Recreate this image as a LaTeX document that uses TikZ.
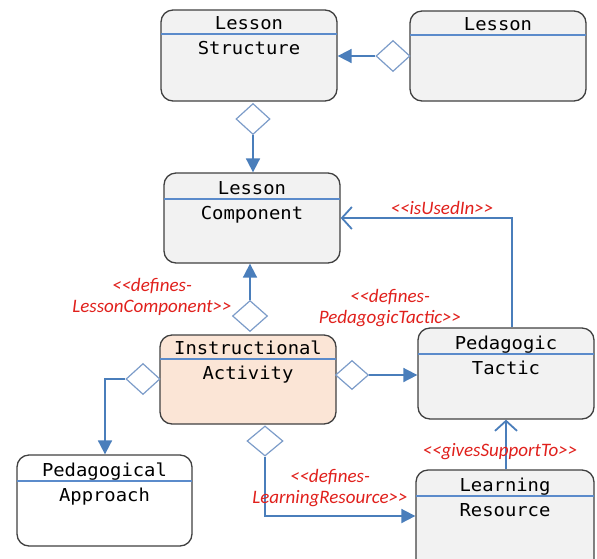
\documentclass[tikz,border=0pt]{standalone}
\usepackage{fontspec}
\usetikzlibrary{shapes.geometric,arrows.meta,calc}
\newfontfamily\boxfont[FakeStretch=1.06]{DejaVu Sans Mono}
\newfontfamily\labfont{Carlito}
\definecolor{boxedge}{HTML}{404040}
\definecolor{boxgray}{HTML}{F2F2F2}
\definecolor{boxpeach}{HTML}{FBE5D6}
\definecolor{sepblue}{HTML}{5B8BCB}
\definecolor{connblue}{HTML}{4A7EBB}
\definecolor{diablue}{HTML}{7C9CC9}
\definecolor{labred}{HTML}{E0201C}
\tikzset{
  classbox/.style={draw=boxedge, line width=1.3pt, rounded corners=12pt, fill=boxgray, inner sep=0pt},
  sepline/.style={draw=sepblue, line width=1.1pt},
  boxtext/.style={anchor=base, inner sep=0pt, text=black, font=\boxfont\fontsize{17.8}{20}\selectfont},
  agg/.style={diamond, draw=diablue, line width=1.2pt, fill=white, inner sep=0pt, minimum width=34pt, minimum height=31pt},
  conn/.style={draw=connblue, line width=1.8pt},
  solidtip/.style={-{Triangle[length=14pt,width=14pt]}},
  opentip/.style={-{Straight Barb[length=10pt,width=22pt,line width=1.8pt]}},
  stereo/.style={text=labred, align=center, inner sep=0pt, font=\labfont\itshape\fontsize{19}{21}\selectfont},
}
% class box: #1 name, #2 left, #3 top, #4 right, #5 bottom, #6 separator y, #7 fill, #8 title, #9 body
\newcommand\classnode[9]{%
  \node[classbox, fill=#7, minimum width=#4-#2, minimum height=#5-#3] (#1) at ({(#2+#4)/2},{(#3+#5)/2}) {};
  \draw[sepline] (#2,#6) -- (#4,#6);
  \node[boxtext] (#1-title) at ({(#2+#4)/2},#6-5) {#8};
  \node[boxtext] (#1-body) at ({(#2+#4)/2},#6+20) {#9};
}
\begin{document}
\begin{tikzpicture}[x=1pt,y=-1pt]
\useasboundingbox (0,0) rectangle (597,558);
\clip (0,0) rectangle (597,558);

% classes
\classnode{ls}{161}{10}{337}{101}{34}{boxgray}{Lesson}{Structure}
\classnode{les}{410}{11}{586}{101}{35}{boxgray}{Lesson}{}
\classnode{lc}{164}{173}{340}{263}{199}{boxgray}{Lesson}{Component}
\classnode{ia}{160}{335}{336}{424}{359}{boxpeach}{Instructional}{Activity}
\classnode{pt}{418}{328}{594}{419}{354}{boxgray}{Pedagogic}{Tactic}
\classnode{pa}{17}{455}{192}{546}{481}{white}{Pedagogical}{Approach}
\classnode{lr}{416}{470}{594}{580}{496}{boxgray}{Learning}{Resource}

% bend points
\coordinate (bendpa) at (105,379);
\coordinate (bendlr) at (265,516);
\coordinate (bendpt) at (512,218);
\coordinate (supx) at (506,0);

% aggregation diamonds
\coordinate (d1) at (393,56);
\coordinate (d2) at (253,119);
\coordinate (d3) at (250,316);
\coordinate (d4) at (352,375);
\coordinate (d5) at (143,379);
\coordinate (d6) at (265,441);
\node[agg] (a1) at (d1) {};
\node[agg] (a2) at (d2) {};
\node[agg, minimum width=35pt] (a3) at (d3) {};
\node[agg, minimum width=33pt, minimum height=29pt] (a4) at (d4) {};
\node[agg] (a5) at (d5) {};
\node[agg, minimum width=36pt, minimum height=30pt] (a6) at (d6) {};

% aggregation links
\draw[conn, solidtip] (a1.west) -- (a1.west -| ls.east);
\draw[conn, solidtip] (a2.south) -- (a2.south |- lc.north);
\draw[conn, solidtip] (a3.north) -- (a3.north |- lc.south);
\draw[conn, solidtip] (a4.east) -- (a4.east -| pt.west);
\draw[conn, solidtip] (a5.west) -- (bendpa) -- (bendpa |- pa.north);
\draw[conn, solidtip] (a6.south) -- (bendlr) -- (bendlr -| lr.west);

% dependency links
\draw[conn, opentip] (bendpt |- pt.north) -- (bendpt) -- (bendpt -| lc.east);
\draw[conn, opentip] (supx |- lr.north) -- (supx |- pt.south);

% stereotypes
\node[stereo] (s1) at (152,297) {<<defines-\\LessonComponent>>};
\node[stereo] (s2) at (442,208) {<<isUsedIn>>};
\node[stereo] (s3) at (390,308) {<<defines-\\PedagogicTactic>>};
\node[stereo] (s4) at (330,488) {<<defines-\\LearningResource>>};
\node[stereo] (s5) at (500,452) {<<givesSupportTo>>};
\end{tikzpicture}
\end{document}
